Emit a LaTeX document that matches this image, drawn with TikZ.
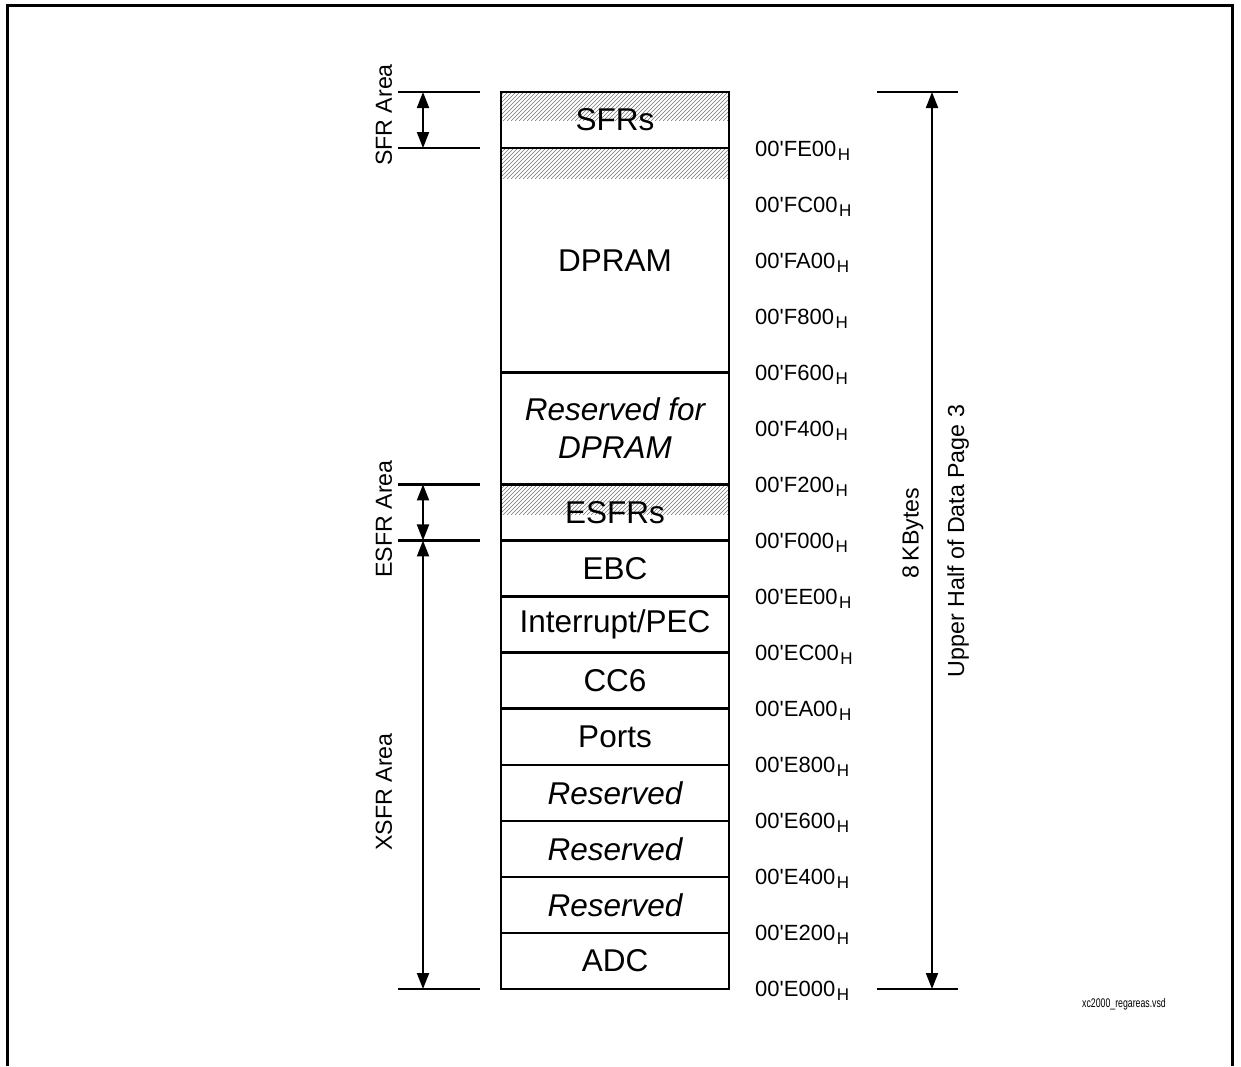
\documentclass[tikz,border=0pt]{standalone}
\usepackage{fontspec}
\setmainfont{Liberation Sans}
\usetikzlibrary{arrows.meta}
\begin{document}
\begin{tikzpicture}[x=1pt,y=-1pt,
 blk/.style={draw, line width=2.5pt, minimum width=228pt, inner sep=0pt, font=\fontsize{31.5}{38}\selectfont, align=center},
 addr/.style={anchor=base west, font=\fontsize{22}{26}\selectfont, inner sep=0pt},
 side/.style={rotate=90, font=\fontsize{23.2}{26}\selectfont, inner sep=0pt},
 tickline/.style={line width=2.5pt},
 dimarrow/.style={line width=2pt, {Triangle[length=16pt,width=12pt]}-{Triangle[length=16pt,width=12pt]}},
 hatchline/.style={black!55, line width=0.55pt}]
\useasboundingbox (0,0) rectangle (1241,1066);
% frame
\draw[line width=3pt] (7,1066) -- (7,5) -- (1232,5) -- (1232,1066);
% hatched bands
\foreach \ya/\yb in {92/120, 148/178, 484.4/514}{
  \begin{scope}
    \clip (501,\ya) rectangle (729,\yb);
    \foreach \k in {0,4,...,270}{
      \draw[hatchline] ({471+\k},{\yb+1}) -- ({471+\k+\yb-\ya+2},{\ya-1});
    }
  \end{scope}
}
% memory blocks
\node[blk, minimum height=56.06pt]  (sfr)   at (615,120.03) {SFRs};
\node[blk, minimum height=224.24pt] (dpram) at (615,260.18) {DPRAM};
\node[blk, minimum height=112.12pt, font=\fontsize{31.5}{38}\selectfont\itshape] (resd) at (615,428.35) {Reserved for\\DPRAM};
\node[blk, minimum height=56.06pt]  (esfr)  at (615,512.47) {ESFRs};
\node[blk, minimum height=56.06pt]  (ebc)   at (615,568.53) {EBC};
\node[blk, minimum height=56.06pt]  (intr)  at (615,624.59) {Interrupt/PEC};
\node[blk, minimum height=56.06pt]  (cc6)   at (615,680.65) {CC6};
\node[blk, minimum height=56.06pt]  (ports) at (615,736.71) {Ports};
\node[blk, minimum height=56.06pt, font=\fontsize{31.5}{38}\selectfont\itshape]  (resa) at (615,792.77) {Reserved};
\node[blk, minimum height=56.06pt, font=\fontsize{31.5}{38}\selectfont\itshape]  (resb) at (615,848.83) {Reserved};
\node[blk, minimum height=56.06pt, font=\fontsize{31.5}{38}\selectfont\itshape]  (resc) at (615,904.89) {Reserved};
\node[blk, minimum height=56.06pt]  (adc)   at (615,960.95) {ADC};
% address labels
\foreach \i/\a in {1/FE00,2/FC00,3/FA00,4/F800,5/F600,6/F400,7/F200,8/F000,9/EE00,10/EC00,11/EA00,12/E800,13/E600,14/E400,15/E200,16/E000}{
  \node[addr] (addr\i) at (755,{92+56.06*\i+8}) {00\textquotesingle\a\kern1.5pt{\fontsize{17}{20}\selectfont\raisebox{-4pt}{H}}};
}
% left dimension ticks
\coordinate (tA) at (423,92);
\coordinate (tB) at (423,148.06);
\coordinate (tC) at (423,484.42);
\coordinate (tD) at (423,540.48);
\coordinate (tE) at (423,989);
\draw[tickline] (398,92) -- (480,92);
\draw[tickline] (398,148.06) -- (480,148.06);
\draw[tickline] (398,484.42) -- (480,484.42);
\draw[tickline] (398,540.48) -- (480,540.48);
\draw[tickline] (398,989) -- (480,989);
\draw[dimarrow] (tA) -- (tB);
\draw[dimarrow] (tC) -- (tD);
\draw[dimarrow] (tD) -- (tE);
\node[side] (lsfr)  at (384,115) {SFR Area};
\node[side] (lesfr) at (384,519) {ESFR Area};
\node[side] (lxsfr) at (384,792) {XSFR Area};
% right dimension
\coordinate (rA) at (932,92);
\coordinate (rB) at (932,989);
\draw[tickline] (877,92) -- (958,92);
\draw[tickline] (877,989) -- (958,989);
\draw[dimarrow] (rA) -- (rB);
\node[side] (lkb) at (913,533) {8\kern4pt KBytes};
\node[side] (lup) at (958,541) {Upper Half of Data Page 3};
% file name
\node[font=\fontsize{12.5}{14}\selectfont, inner sep=0pt] (fname) at (1124,1004) {\scalebox{0.7}[1]{xc2000\_regareas.vsd}};
\end{tikzpicture}
\end{document}
